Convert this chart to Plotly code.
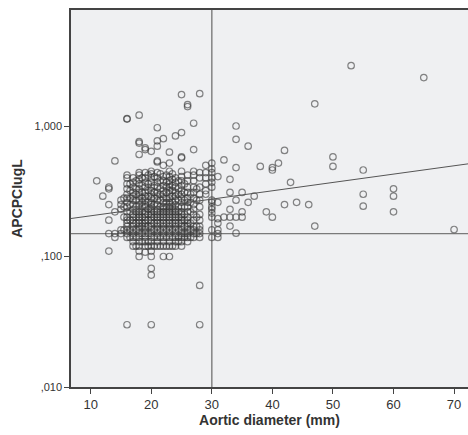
import plotly.graph_objects as go

# Aortic diameter (mm) and the APCPC readings (ug/L) recorded at each diameter
diameters = [11, 12, 13, 14, 15, 15.5, 16, 16.5, 17, 17.5, 18, 18.5, 19, 19.5,
             20, 20.5, 21, 21.5, 22, 22.5, 23, 23.5, 24, 24.5, 25, 25.5, 26,
             26.5, 27, 27.5, 28, 29, 30, 31, 32, 33, 34, 35, 36, 37, 38, 39,
             40, 41, 42, 43, 44, 46, 47, 50, 53, 55, 60, 65, 70]

apcpc_by_diameter = [
    [0.38],
    [0.29],
    [0.34, 0.33, 0.25, 0.19, 0.15, 0.11],
    [0.54, 0.22, 0.15, 0.14],
    [0.27, 0.25, 0.23, 0.16, 0.15],
    [0.28, 0.24, 0.20, 0.16],
    [1.14, 1.13, 0.42, 0.40, 0.36, 0.33, 0.30, 0.28, 0.26, 0.24, 0.22, 0.20,
     0.19, 0.18, 0.17, 0.16, 0.15, 0.14, 0.03],
    [0.36, 0.32, 0.28, 0.25, 0.22, 0.19, 0.16, 0.14],
    [0.40, 0.37, 0.34, 0.31, 0.29, 0.27, 0.25, 0.23, 0.21, 0.20, 0.19, 0.18,
     0.17, 0.16, 0.15, 0.14, 0.13, 0.12],
    [0.38, 0.33, 0.30, 0.27, 0.24, 0.22, 0.20, 0.18, 0.16, 0.14, 0.12],
    [1.21, 0.76, 0.74, 0.605, 0.44, 0.42, 0.39, 0.36, 0.33, 0.31, 0.29, 0.27,
     0.25, 0.23, 0.22, 0.21, 0.20, 0.19, 0.18, 0.17, 0.16, 0.15, 0.14, 0.13,
     0.12, 0.11, 0.10],
    [0.40, 0.35, 0.31, 0.28, 0.26, 0.24, 0.22, 0.20, 0.18, 0.17, 0.15, 0.13],
    [0.68, 0.66, 0.44, 0.40, 0.37, 0.34, 0.31, 0.29, 0.27, 0.25, 0.24, 0.22,
     0.21, 0.20, 0.19, 0.18, 0.17, 0.16, 0.15, 0.14, 0.13, 0.12, 0.108],
    [0.42, 0.36, 0.32, 0.29, 0.26, 0.23, 0.21, 0.19, 0.17, 0.15, 0.13, 0.12],
    [0.64, 0.45, 0.43, 0.40, 0.37, 0.34, 0.32, 0.30, 0.28, 0.26, 0.25, 0.24,
     0.23, 0.22, 0.21, 0.20, 0.19, 0.18, 0.17, 0.16, 0.15, 0.14, 0.13, 0.12,
     0.11, 0.10, 0.081, 0.072, 0.03],
    [0.41, 0.35, 0.31, 0.28, 0.25, 0.22, 0.20, 0.18, 0.16, 0.14, 0.12],
    [0.97, 0.77, 0.70, 0.54, 0.53, 0.44, 0.40, 0.37, 0.34, 0.31, 0.29, 0.27,
     0.25, 0.23, 0.22, 0.21, 0.20, 0.19, 0.18, 0.17, 0.16, 0.15, 0.14, 0.13,
     0.12],
    [0.43, 0.38, 0.33, 0.30, 0.27, 0.24, 0.22, 0.20, 0.18, 0.16, 0.14, 0.12],
    [0.80, 0.50, 0.41, 0.38, 0.35, 0.32, 0.30, 0.28, 0.26, 0.24, 0.23, 0.22,
     0.21, 0.20, 0.19, 0.18, 0.17, 0.16, 0.15, 0.14, 0.13, 0.12, 0.10],
    [0.42, 0.37, 0.34, 0.31, 0.28, 0.26, 0.24, 0.22, 0.20, 0.18, 0.16, 0.14,
     0.12],
    [0.63, 0.52, 0.45, 0.41, 0.38, 0.36, 0.34, 0.32, 0.30, 0.28, 0.26, 0.25,
     0.24, 0.23, 0.22, 0.21, 0.20, 0.19, 0.18, 0.17, 0.16, 0.15, 0.14, 0.13,
     0.12, 0.10],
    [0.43, 0.39, 0.35, 0.32, 0.29, 0.26, 0.24, 0.22, 0.20, 0.18, 0.16, 0.14,
     0.12],
    [0.84, 0.40, 0.37, 0.34, 0.31, 0.29, 0.27, 0.25, 0.23, 0.22, 0.21, 0.20,
     0.19, 0.18, 0.17, 0.16, 0.15, 0.14, 0.13, 0.12],
    [0.38, 0.33, 0.30, 0.27, 0.24, 0.22, 0.20, 0.18, 0.16, 0.14, 0.13],
    [1.74, 0.89, 0.58, 0.57, 0.45, 0.41, 0.38, 0.35, 0.32, 0.30, 0.28, 0.26,
     0.24, 0.22, 0.21, 0.20, 0.19, 0.18, 0.17, 0.16, 0.15, 0.14, 0.13, 0.12],
    [0.36, 0.31, 0.27, 0.24, 0.21, 0.19, 0.17, 0.15, 0.14],
    [1.46, 1.41, 0.42, 0.38, 0.34, 0.31, 0.28, 0.26, 0.24, 0.22, 0.20, 0.19,
     0.18, 0.17, 0.16, 0.15, 0.14, 0.13],
    [0.30, 0.26, 0.22, 0.18, 0.16, 0.14],
    [1.05, 0.66, 0.45, 0.42, 0.38, 0.34, 0.31, 0.28, 0.25, 0.23, 0.21, 0.19,
     0.17, 0.16, 0.15, 0.14],
    [0.33, 0.27, 0.20, 0.17, 0.15],
    [1.77, 0.44, 0.40, 0.34, 0.30, 0.27, 0.24, 0.21, 0.19, 0.17, 0.16, 0.15,
     0.14, 0.06, 0.03],
    [0.50, 0.44, 0.40, 0.36, 0.32, 0.30],
    [0.52, 0.47, 0.44, 0.40, 0.37, 0.34, 0.27, 0.26, 0.24, 0.23, 0.215, 0.20,
     0.16, 0.14],
    [0.41, 0.26, 0.195, 0.18, 0.16, 0.15, 0.14],
    [0.55, 0.20],
    [0.39, 0.31, 0.23, 0.20, 0.171],
    [1.00, 0.79, 0.48, 0.27, 0.20, 0.151],
    [0.31, 0.22, 0.20],
    [0.70, 0.26],
    [0.29],
    [0.49],
    [0.22],
    [0.48, 0.46, 0.20],
    [0.52],
    [0.65, 0.25],
    [0.37],
    [0.26],
    [0.25],
    [1.48, 0.171],
    [0.58, 0.49],
    [2.90],
    [0.46, 0.30, 0.243],
    [0.33, 0.29, 0.22],
    [2.35],
    [0.161],
]

# Fitted line on log10 scale: log10(APCPC) = intercept + slope * diameter
fit_intercept = -0.752
fit_slope = 0.00639

# Reference cut-offs
diameter_cutoff = 30
apcpc_cutoff = 0.15

x_range = [6.75, 72.3]
x_ticks = [10, 20, 30, 40, 50, 60, 70]
y_tick_vals = [0.01, 0.1, 1.0]
y_tick_text = [",010", ",100", "1,000"]

xs, ys = [], []
for d, vals in zip(diameters, apcpc_by_diameter):
    for v in vals:
        xs.append(d)
        ys.append(v)

fig = go.Figure()

fig.add_trace(go.Scatter(
    x=xs, y=ys, mode="markers",
    marker=dict(symbol="circle-open", size=6.5,
                color="rgba(55,55,55,0.6)",
                line=dict(width=1.2, color="rgba(55,55,55,0.6)")),
    showlegend=False, hoverinfo="x+y",
))

fit_x = list(x_range)
fit_y = [10 ** (fit_intercept + fit_slope * v) for v in fit_x]
fig.add_trace(go.Scatter(
    x=fit_x, y=fit_y, mode="lines",
    line=dict(color="#555555", width=1),
    showlegend=False, hoverinfo="skip",
))

fig.add_shape(type="line", xref="x", yref="paper",
              x0=diameter_cutoff, x1=diameter_cutoff, y0=0, y1=1,
              line=dict(color="#8a8a8a", width=1.6), layer="below")
fig.add_shape(type="line", xref="paper", yref="y",
              x0=0, x1=1, y0=apcpc_cutoff, y1=apcpc_cutoff,
              line=dict(color="#7a7a7a", width=1.3), layer="below")

font_family = "Arial, Liberation Sans, sans-serif"

fig.update_layout(
    width=468, height=435,
    margin=dict(l=71, r=0, t=10, b=48),
    paper_bgcolor="white",
    plot_bgcolor="#eff0f2",
    font=dict(family=font_family, size=12, color="#333333"),
    xaxis=dict(
        range=x_range, tickvals=x_ticks, ticks="outside", ticklen=5,
        tickwidth=1, tickcolor="#444444", showgrid=False, zeroline=False,
        showline=True, linecolor="#444444", linewidth=1.5, mirror=True,
        tickfont=dict(family=font_family, size=13, color="#333333"),
        title=dict(text="<b>Aortic diameter (mm)</b>",
                   font=dict(family=font_family, size=14, color="#333333"),
                   standoff=3),
    ),
    yaxis=dict(
        type="log", range=[-2, 0.889],
        tickvals=y_tick_vals, ticktext=y_tick_text,
        ticks="outside", ticklen=5, tickwidth=1, tickcolor="#444444",
        showgrid=False, zeroline=False,
        showline=True, linecolor="#444444", linewidth=1.5,
        tickfont=dict(family=font_family, size=11, color="#333333"),
        title=dict(text="<b>APCPCIugL</b>",
                   font=dict(family=font_family, size=14, color="#333333"),
                   standoff=9),
    ),
)

fig.write_html("out.html")
